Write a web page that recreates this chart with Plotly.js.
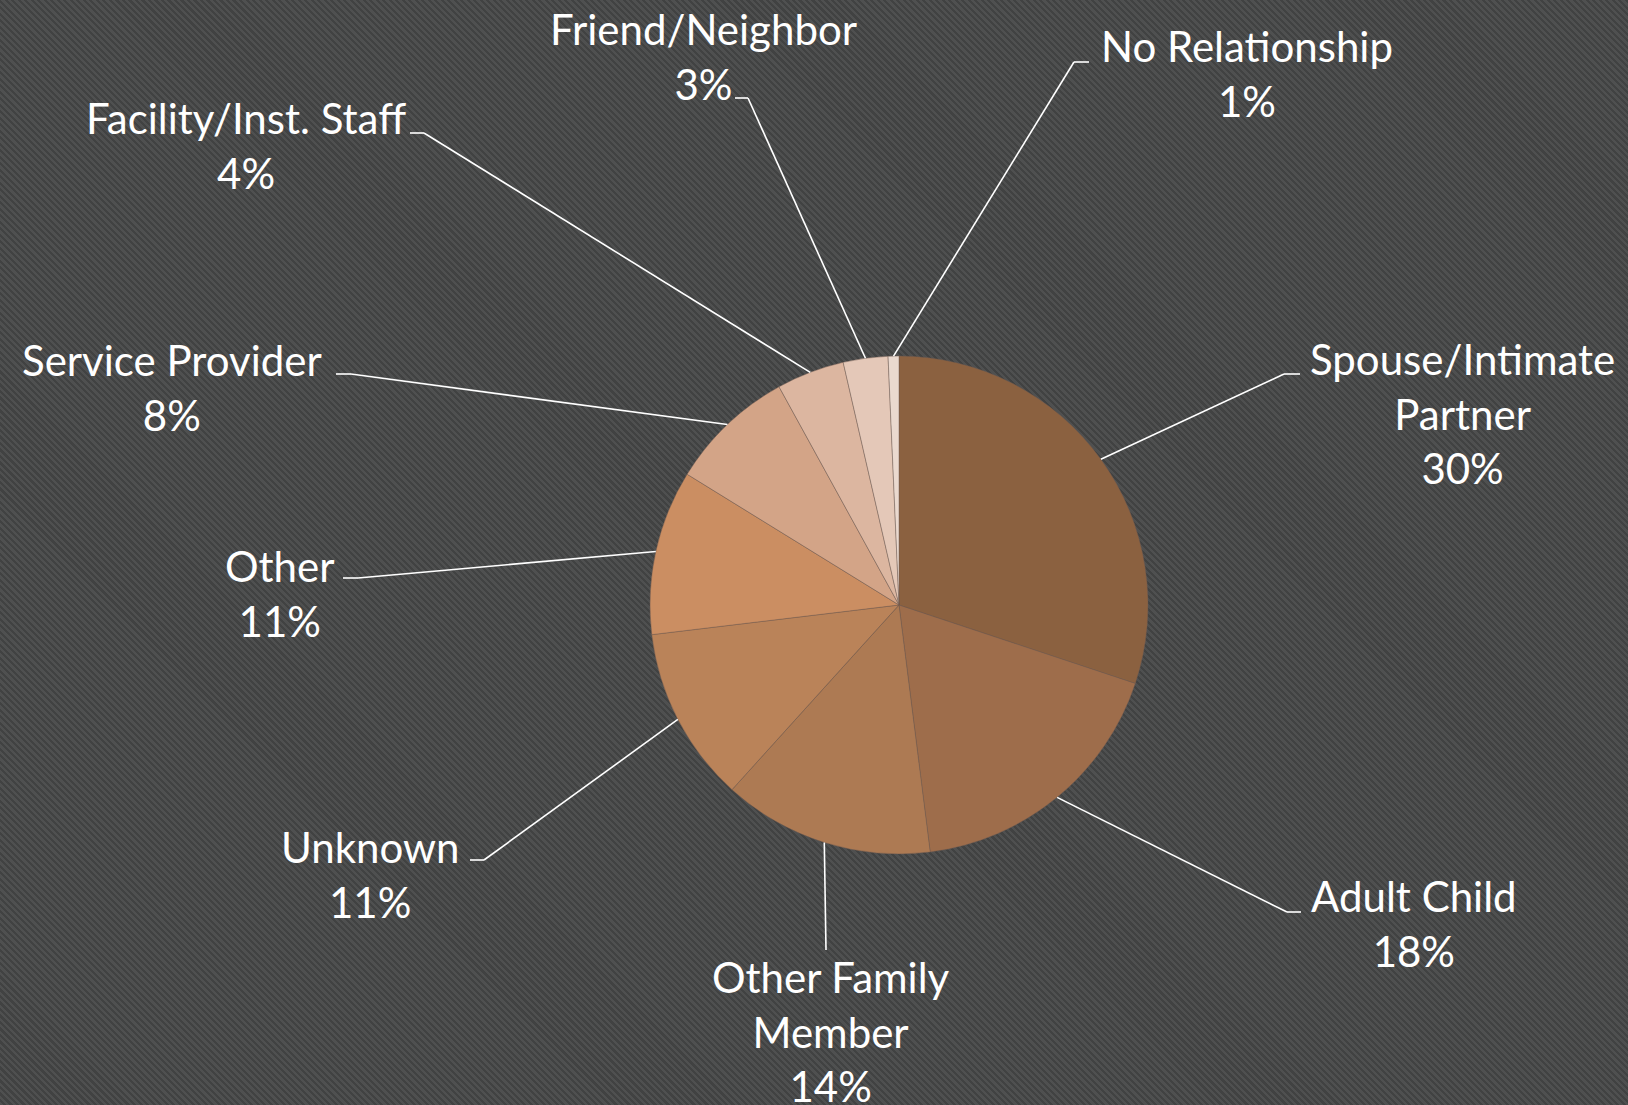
<!DOCTYPE html>
<html>
<head>
<meta charset="utf-8">
<script src="https://cdn.plot.ly/plotly-3.0.1.min.js"></script>
<style>
  html, body { margin: 0; padding: 0; }
  body {
    width: 1628px; height: 1105px; overflow: hidden;
    background-color: #494a4a;
    background-image: repeating-linear-gradient(45deg, #4f5050 0px, #4f5050 2.4px, #414242 2.4px, #414242 4.6px);
  }
  #chart { width: 1628px; height: 1105px; }
</style>
</head>
<body>
<div id="chart"></div>
<script>
// ---- data ----
const categories = ['Spouse/Intimate Partner', 'Adult Child', 'Other Family Member', 'Unknown', 'Other',
                    'Service Provider', 'Facility/Inst. Staff', 'Friend/Neighbor', 'No Relationship'];
const shares = [30.1, 17.9, 13.7, 11.4, 10.7, 8.2, 4.4, 2.9, 0.7];
const sliceColors = ['#8b6140', '#9e6d4b', '#ad7a53', '#ba8359', '#cb8e62', '#d3a487', '#dcb6a0', '#e4c8b8', '#ead9cf'];

// ---- layout (pixel geometry) ----
const W = 1628, H = 1105;
const cx = 899, cy = 605, R = 249;
// text block centre (tx,ty), elbow (ex,ey), line end (hx,hy), wrap = break at last space
const labelPos = [
  {tx: 1462, ty: 413, ex: 1284, ey: 374, hx: 1300, hy: 374, wrap: true},
  {tx: 1414, ty: 923, ex: 1287, ey: 912, hx: 1301, hy: 912, wrap: false},
  {tx: 831,  ty: 1031, ex: 826, ey: 950, hx: 826, hy: 950, wrap: true},
  {tx: 370,  ty: 874, ex: 484, ey: 860, hx: 470, hy: 860, wrap: false},
  {tx: 280,  ty: 593, ex: 358, ey: 578, hx: 343, hy: 578, wrap: false},
  {tx: 172,  ty: 388, ex: 351, ey: 374, hx: 336, hy: 374, wrap: false},
  {tx: 246,  ty: 146, ex: 424, ey: 133, hx: 410, hy: 133, wrap: false},
  {tx: 703,  ty: 56,  ex: 748, ey: 98,  hx: 735, hy: 98,  wrap: false},
  {tx: 1247, ty: 74,  ex: 1074, ey: 62, hx: 1089, hy: 62, wrap: false}
];

const px = x => x / W;
const py = y => 1 - y / H;

const total = shares.reduce((a, b) => a + b, 0);
const shapes = [];
const annotations = [];
let cum = 0;
shares.forEach((v, i) => {
  const theta = 2 * Math.PI * (cum + v / 2) / total;
  cum += v;
  const rx = cx + R * Math.sin(theta);
  const ry = cy - R * Math.cos(theta);
  const p = labelPos[i];
  const lineStyle = {color: '#ffffff', width: 1.6};
  shapes.push({type: 'line', xref: 'paper', yref: 'paper', x0: px(rx), y0: py(ry), x1: px(p.ex), y1: py(p.ey), line: lineStyle});
  if (p.hx !== p.ex || p.hy !== p.ey) {
    shapes.push({type: 'line', xref: 'paper', yref: 'paper', x0: px(p.ex), y0: py(p.ey), x1: px(p.hx), y1: py(p.hy), line: lineStyle});
  }
  let name = categories[i];
  if (p.wrap) {
    const k = name.lastIndexOf(' ');
    name = name.slice(0, k) + '<br>' + name.slice(k + 1);
  }
  annotations.push({
    xref: 'paper', yref: 'paper', x: px(p.tx), y: py(p.ty),
    xanchor: 'center', yanchor: 'middle', align: 'center', showarrow: false,
    text: name + '<br>' + Math.round(v / total * 100) + '%',
    font: {family: 'Lato, "Open Sans", sans-serif', size: 42, color: '#ffffff'}
  });
});

const trace = {
  type: 'pie',
  labels: categories,
  values: shares,
  sort: false,
  direction: 'clockwise',
  rotation: 0,
  textinfo: 'none',
  hoverinfo: 'label+percent',
  marker: {colors: sliceColors, line: {color: 'rgba(110,90,80,0.55)', width: 0.8}},
  domain: {x: [px(cx - R), px(cx + R)], y: [py(cy + R), py(cy - R)]},
  showlegend: false
};

const layout = {
  width: W, height: H,
  margin: {l: 0, r: 0, t: 0, b: 0},
  paper_bgcolor: 'rgba(0,0,0,0)',
  plot_bgcolor: 'rgba(0,0,0,0)',
  showlegend: false,
  shapes: shapes,
  annotations: annotations
};

Plotly.newPlot('chart', [trace], layout, {displayModeBar: false, staticPlot: true});
</script>
</body>
</html>
